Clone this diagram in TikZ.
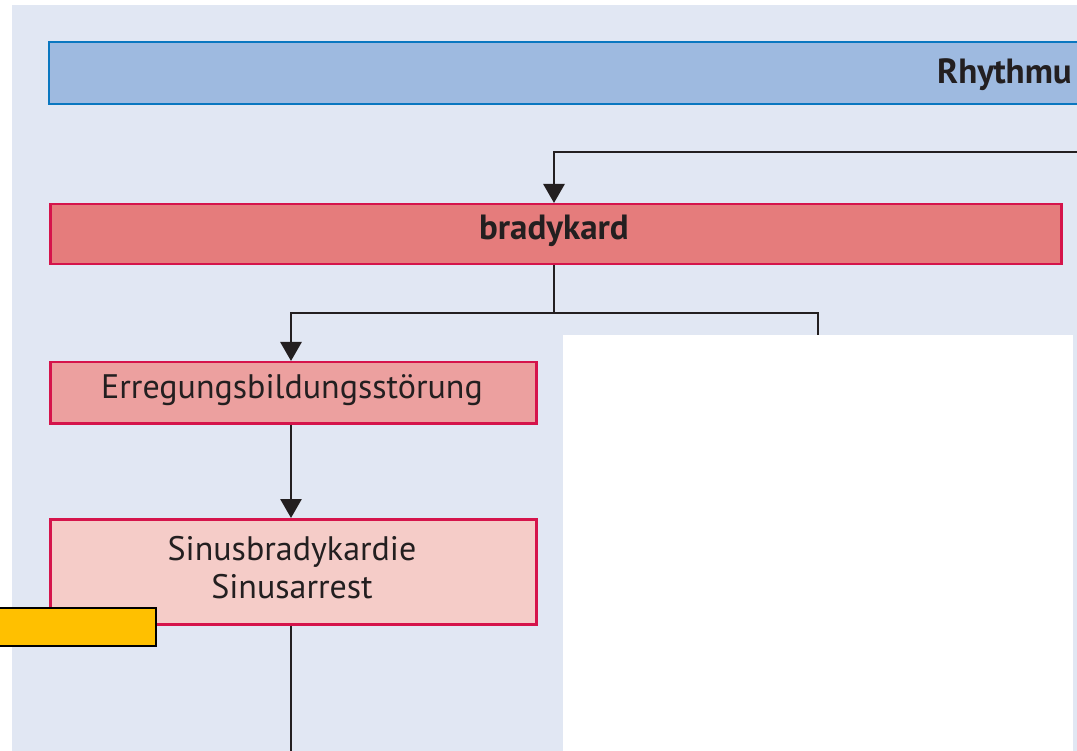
\documentclass[tikz,border=0pt]{standalone}
\usepackage{fontspec}
\setmainfont{PT Sans}
\usetikzlibrary{arrows.meta}
\definecolor{bgblue}{HTML}{E1E7F3}
\definecolor{barfill}{HTML}{9EBAE0}
\definecolor{barline}{HTML}{0A77C0}
\definecolor{redline}{HTML}{D5144B}
\definecolor{boxA}{HTML}{E57C7C}
\definecolor{boxB}{HTML}{ECA09F}
\definecolor{boxC}{HTML}{F5CCC8}
\definecolor{yel}{HTML}{FFC000}
\definecolor{ink}{HTML}{231F20}
\tikzset{
  box/.style={draw=redline, line width=2.5pt, inner sep=0pt},
  conn/.style={draw=ink, line width=2.8pt},
  arr/.style={conn, -{Triangle[width=21pt,length=19pt]}},
  lbl/.style={font=\fontsize{34}{38}\selectfont, text=ink, align=center}
}
\begin{document}
\begin{tikzpicture}[x=1pt,y=-1pt]
\useasboundingbox (0,0) rectangle (1077,751);
\fill[white] (0,0) rectangle (1077,751);
\fill[bgblue] (12,5) rectangle (1077,751);
% top bar
\begin{scope}
\clip (0,0) rectangle (1077,751);
\draw[fill=barfill, draw=barline, line width=2.5pt] (49,42) rectangle (1090,104);
\node[lbl, font=\fontsize{35}{38}\selectfont\bfseries, anchor=base west, inner sep=0pt] (rhy) at (937,84) {Rhythmu};
\end{scope}
% boxes
\node[box, fill=boxA, minimum width=1011pt, minimum height=60pt, anchor=north west] (brady) at (49,203) {};
\node[lbl, font=\fontsize{35}{38}\selectfont\bfseries] (bradyt) at (554,231) {bradykard};
\node[box, fill=boxB, minimum width=486pt, minimum height=61pt, anchor=north west] (erreg) at (49,361) {};
\node[lbl] (erregt) at (292,390) {Erregungsbildungsstörung};
\node[box, fill=boxC, minimum width=486pt, minimum height=105pt, anchor=north west] (sinus) at (49,518) {};
\node[lbl] (sinust) at (292,568) {Sinusbradykardie\\Sinusarrest};
% connectors
\coordinate (topin) at (1077,152);
\coordinate (bend) at (554,152);
\draw[arr] (topin) -- (bend) -- (bend |- brady.north);
\coordinate (split) at (554,313);
\coordinate (splitL) at (291,313);
\coordinate (splitR) at (818,313);
\coordinate (splitRend) at (818,340);
\draw[conn] (split |- brady.south) -- (split);
\draw[arr] (split) -- (splitL) -- (erreg.north -| splitL);
\draw[conn] (split) -- (splitR) -- (splitRend);
\draw[arr] (erreg.south -| splitL) -- (sinus.north -| splitL);
\coordinate (bottom) at (291,751);
\draw[conn] (sinus.south -| splitL) -- (bottom);
% yellow tag
\node[draw=black, line width=2pt, fill=yel, minimum width=157pt, minimum height=38pt, inner sep=0pt, anchor=north west] (tag) at (-2,607) {};
% white panel
\fill[white] (563,335) rectangle (1073,751);
\end{tikzpicture}
\end{document}
